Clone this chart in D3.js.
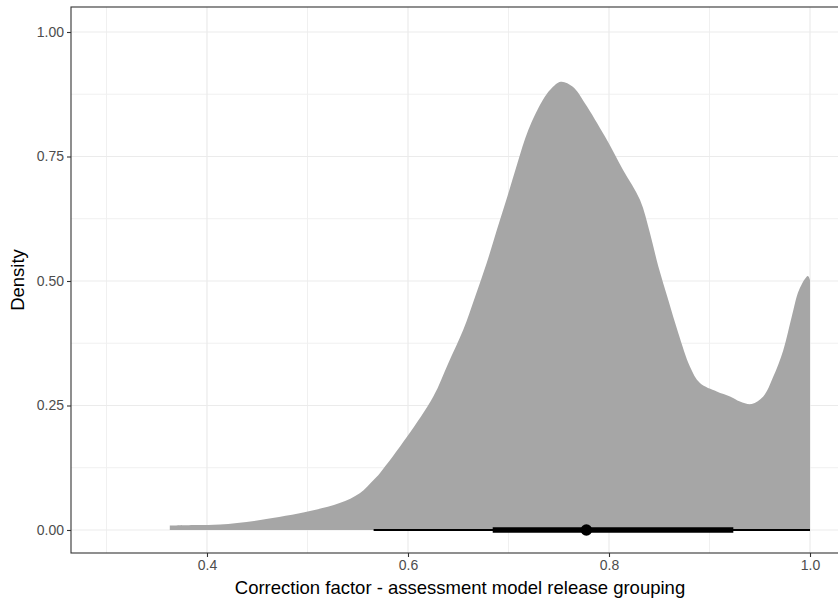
<!DOCTYPE html>
<html>
<head>
<meta charset="utf-8">
<script src="https://cdn.jsdelivr.net/npm/d3@7"></script>
<style>
  html, body { margin: 0; padding: 0; background: #fff; }
  svg { display: block; font-family: "Liberation Sans", Arial, Helvetica, sans-serif; }
</style>
</head>
<body>
<svg id="chart" width="838" height="603"></svg>
<script>
// Posterior density of the correction factor
const densityX = [0.363, 0.390, 0.413, 0.453, 0.5025, 0.532, 0.552, 0.5655, 0.572, 0.599,
  0.6252, 0.6401, 0.655, 0.6667, 0.6783, 0.6883, 0.6988, 0.7088, 0.7197, 0.734, 0.742, 0.752,
  0.764, 0.776, 0.796, 0.814, 0.8308, 0.8408, 0.8491, 0.859, 0.869, 0.8806, 0.8905, 0.9072,
  0.9204, 0.9303, 0.942, 0.9535, 0.9635, 0.9734, 0.9818, 0.9891, 0.9979, 1.000];
const densityY = [0.009, 0.010, 0.011, 0.020, 0.038, 0.054, 0.074, 0.100, 0.114, 0.187,
  0.268, 0.335, 0.402, 0.468, 0.536, 0.602, 0.669, 0.736, 0.803, 0.863, 0.885, 0.900,
  0.890, 0.857, 0.790, 0.723, 0.663, 0.596, 0.529, 0.462, 0.395, 0.328, 0.295, 0.278,
  0.268, 0.258, 0.253, 0.268, 0.308, 0.361, 0.428, 0.482, 0.510, 0.502];

// Point summary with intervals
const pointEstimate = 0.7775;
const innerInterval = [0.6843, 0.9237];
const outerInterval = [0.5658, 1.0];

// Axis ticks
const xTicks = [0.4, 0.6, 0.8, 1.0];
const xMinor = [0.3, 0.5, 0.7, 0.9];
const yTicks = [0, 0.25, 0.5, 0.75, 1.0];
const yMinor = [0.125, 0.375, 0.625, 0.875];

const xTitle = "Correction factor - assessment model release grouping";
const yTitle = "Density";

const svg = d3.select("#chart");
const panel = { left: 71, right: 849, top: 7, bottom: 553 };

const x = d3.scaleLinear().domain([0.2647, 1.0388]).range([panel.left, panel.right]);
const y = d3.scaleLinear().domain([-0.0462, 1.0502]).range([panel.bottom, panel.top]);

// grid
const grid = svg.append("g");
grid.selectAll(".xminor").data(xMinor).join("line")
  .attr("x1", d => x(d)).attr("x2", d => x(d))
  .attr("y1", panel.top).attr("y2", panel.bottom)
  .attr("stroke", "#f0f0f0").attr("stroke-width", 1);
grid.selectAll(".yminor").data(yMinor).join("line")
  .attr("y1", d => y(d)).attr("y2", d => y(d))
  .attr("x1", panel.left).attr("x2", panel.right)
  .attr("stroke", "#f0f0f0").attr("stroke-width", 1);
grid.selectAll(".xmajor").data(xTicks).join("line")
  .attr("x1", d => x(d)).attr("x2", d => x(d))
  .attr("y1", panel.top).attr("y2", panel.bottom)
  .attr("stroke", "#ebebeb").attr("stroke-width", 1.2);
grid.selectAll(".ymajor").data(yTicks).join("line")
  .attr("y1", d => y(d)).attr("y2", d => y(d))
  .attr("x1", panel.left).attr("x2", panel.right)
  .attr("stroke", "#ebebeb").attr("stroke-width", 1.2);

// density slab
const pts = densityX.map((d, i) => [d, densityY[i]]);
const area = d3.area()
  .x(d => x(d[0]))
  .y0(y(0))
  .y1(d => y(d[1]))
  .curve(d3.curveCatmullRom.alpha(0.5));
svg.append("path").datum(pts)
  .attr("d", area)
  .attr("fill", "#a6a6a6");

// intervals
svg.append("line")
  .attr("x1", x(outerInterval[0])).attr("x2", x(outerInterval[1]))
  .attr("y1", y(0)).attr("y2", y(0))
  .attr("stroke", "#000").attr("stroke-width", 2);
svg.append("line")
  .attr("x1", x(innerInterval[0])).attr("x2", x(innerInterval[1]))
  .attr("y1", y(0)).attr("y2", y(0))
  .attr("stroke", "#000").attr("stroke-width", 5.5);
svg.append("circle")
  .attr("cx", x(pointEstimate)).attr("cy", y(0)).attr("r", 5.8)
  .attr("fill", "#000");

// panel border
svg.append("rect")
  .attr("x", panel.left).attr("y", panel.top)
  .attr("width", panel.right - panel.left).attr("height", panel.bottom - panel.top)
  .attr("fill", "none").attr("stroke", "#333333").attr("stroke-width", 1.1);

// axes
const xAxis = svg.append("g")
  .attr("transform", `translate(0,${panel.bottom})`)
  .call(d3.axisBottom(x).tickValues(xTicks).tickFormat(d3.format(".1f")).tickSize(4).tickPadding(3));
const yAxis = svg.append("g")
  .attr("transform", `translate(${panel.left},0)`)
  .call(d3.axisLeft(y).tickValues(yTicks).tickFormat(d3.format(".2f")).tickSize(4).tickPadding(3));
[xAxis, yAxis].forEach(a => {
  a.select(".domain").remove();
  a.selectAll(".tick line").attr("stroke", "#333333").attr("stroke-width", 1.1);
  a.selectAll(".tick text").attr("fill", "#4d4d4d").attr("font-size", 14)
    .attr("font-family", "'Liberation Sans', Arial, sans-serif");
});

// titles
svg.append("text")
  .attr("x", (panel.left + panel.right) / 2).attr("y", 594)
  .attr("text-anchor", "middle").attr("font-size", 18.5).attr("fill", "#000")
  .text(xTitle);
svg.append("text")
  .attr("transform", `translate(24,${(panel.top + panel.bottom) / 2}) rotate(-90)`)
  .attr("text-anchor", "middle").attr("font-size", 18.5).attr("fill", "#000")
  .text(yTitle);
</script>
</body>
</html>
